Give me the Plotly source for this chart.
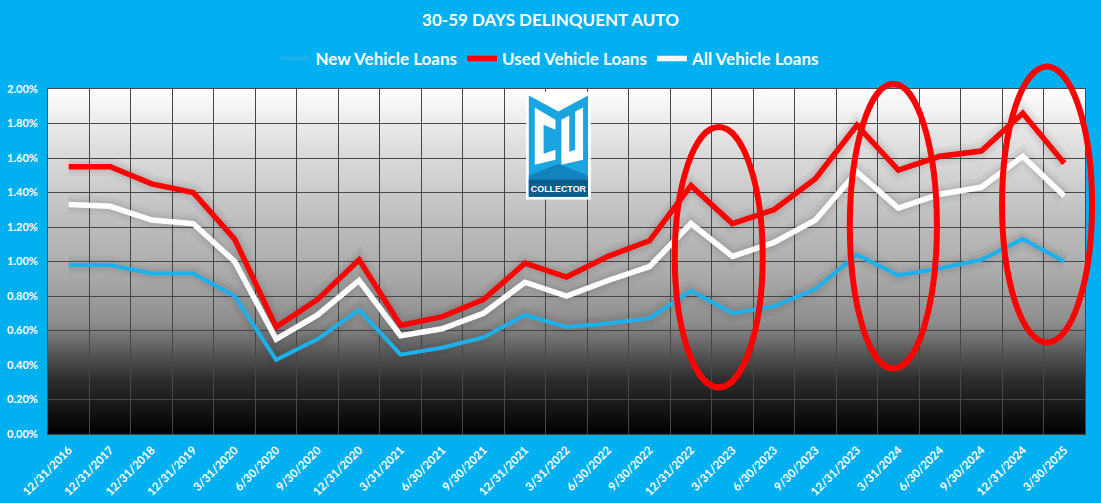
import base64
import plotly.graph_objects as go

# ---------------- data ----------------
categories = ["12/31/2016", "12/31/2017", "12/31/2018", "12/31/2019", "3/31/2020",
              "6/30/2020", "9/30/2020", "12/31/2020", "3/31/2021", "6/30/2021",
              "9/30/2021", "12/31/2021", "3/31/2022", "6/30/2022", "9/30/2022",
              "12/31/2022", "3/31/2023", "6/30/2023", "9/30/2023", "12/31/2023",
              "3/31/2024", "6/30/2024", "9/30/2024", "12/31/2024", "3/30/2025"]

new_vehicle = [0.98, 0.98, 0.93, 0.93, 0.80, 0.43, 0.55, 0.72, 0.46, 0.50,
               0.56, 0.69, 0.62, 0.64, 0.67, 0.83, 0.70, 0.74, 0.84, 1.04,
               0.92, 0.96, 1.01, 1.13, 1.00]
used_vehicle = [1.55, 1.55, 1.45, 1.40, 1.13, 0.62, 0.78, 1.01, 0.63, 0.68,
                0.78, 0.99, 0.91, 1.03, 1.12, 1.44, 1.22, 1.30, 1.48, 1.79,
                1.53, 1.61, 1.64, 1.86, 1.57]
all_vehicle = [1.33, 1.32, 1.24, 1.22, 1.00, 0.55, 0.69, 0.89, 0.57, 0.61,
               0.70, 0.88, 0.80, 0.89, 0.97, 1.22, 1.03, 1.11, 1.24, 1.52,
               1.31, 1.39, 1.43, 1.61, 1.38]

y_ticks = [0.0, 0.2, 0.4, 0.6, 0.8, 1.0, 1.2, 1.4, 1.6, 1.8, 2.0]

# highlight ellipses: (left category idx, right category idx, low %, high %)
ellipses = [(14.61, 16.73, 0.27, 1.78),
            (18.83, 20.93, 0.38, 2.03),
            (22.50, 24.67, 0.53, 2.13)]

series = [("New Vehicle Loans", new_vehicle, "#1cb0ec", 4),
          ("Used Vehicle Loans", used_vehicle, "#ff0000", 5.5),
          ("All Vehicle Loans", all_vehicle, "#ffffff", 5.5)]

BG = "#00b0f0"
FONT = "Lato"

fig = go.Figure()

# soft shadows (glow) below lines
for name, vals, color, w in series:
    for ww, a in [(18, 0.05), (11, 0.07)]:
        fig.add_trace(go.Scatter(
            x=categories, y=[v / 100 for v in vals], mode="lines",
            line=dict(color=f"rgba(60,60,60,{a})", width=ww),
            showlegend=False, hoverinfo="skip"))

for name, vals, color, w in series:
    fig.add_trace(go.Scatter(
        x=categories, y=[v / 100 for v in vals], mode="lines", name=name,
        line=dict(color=color, width=w)))

n = len(categories)
xr = [-0.5, n - 0.5]
yr = [0, 0.02]

def px_x(idx):
    return (idx - xr[0]) / (xr[1] - xr[0])

def px_y(pct):
    return (pct / 100 - yr[0]) / (yr[1] - yr[0])

shapes = []
for x0, x1, y0, y1 in ellipses:
    shapes.append(dict(type="circle", xref="paper", yref="paper",
                       x0=px_x(x0), x1=px_x(x1), y0=px_y(y0), y1=px_y(y1),
                       line=dict(color="#ff0000", width=6), layer="above"))

# gradient background for plot area
grad_svg = """<svg xmlns='http://www.w3.org/2000/svg' width='100' height='100' preserveAspectRatio='none' viewBox='0 0 100 100'>
<defs><linearGradient id='g' x1='0' y1='0' x2='0' y2='1'>
<stop offset='0' stop-color='#ffffff'/>
<stop offset='0.12' stop-color='#e6e6e6'/>
<stop offset='0.35' stop-color='#c2c2c2'/>
<stop offset='0.55' stop-color='#a8a8a8'/>
<stop offset='0.68' stop-color='#8c8c8c'/>
<stop offset='0.76' stop-color='#5a5a5a'/>
<stop offset='0.84' stop-color='#2e2e2e'/>
<stop offset='1' stop-color='#000000'/>
</linearGradient></defs>
<rect x='0' y='0' width='100' height='100' fill='url(#g)'/></svg>"""

logo_svg = """<svg xmlns='http://www.w3.org/2000/svg' width='66' height='108' viewBox='0 0 66 108'>
<rect x='0' y='0' width='66' height='108' fill='#ffffff'/>
<polygon points='3,4 33,20 63,4 63,105 3,105' fill='#1ba5e0'/>
<polygon points='9,16 30,28 30,38 18,33 18,62 30,58 30,68 9,73' fill='#ffffff'/>
<polygon points='36,28 44,24 44,60 50,58 50,20 58,16 58,68 36,73' fill='#ffffff'/>
<polygon points='3,84 33,72 63,84 63,105 3,105' fill='#1283bd'/>
<rect x='3' y='88' width='60' height='17' fill='#0d5d8a'/>
<text x='33' y='100.5' font-family='Liberation Sans Narrow, Arial Narrow, sans-serif' font-weight='bold' font-size='9' fill='#ffffff' text-anchor='middle'>COLLECTOR</text>
</svg>"""

def data_uri(svg):
    return "data:image/svg+xml;base64," + base64.b64encode(svg.encode()).decode()

images = [
    dict(source=data_uri(grad_svg), xref="paper", yref="paper", x=0, y=1,
         sizex=1, sizey=1, xanchor="left", yanchor="top", sizing="stretch",
         layer="below"),
    dict(source=data_uri(logo_svg), xref="paper", yref="paper",
         x=px_x(11.02), y=px_y(1.985), sizex=px_x(12.59) - px_x(11.02),
         sizey=px_y(1.985) - px_y(1.358), xanchor="left", yanchor="top",
         sizing="stretch", layer="above"),
]

fig.update_layout(
    width=1101, height=503,
    paper_bgcolor=BG, plot_bgcolor="rgba(0,0,0,0)",
    margin=dict(l=48, r=16, t=89, b=69, autoexpand=False),
    title=dict(text="30-59 DAYS DELINQUENT AUTO", x=0.5, xanchor="center",
               y=0.96, yanchor="middle", yref="container",
               font=dict(family=FONT, size=17, color="white", weight="bold")),
    legend=dict(orientation="h", x=0.4846, xanchor="center", y=1.087,
                yanchor="middle", bgcolor="rgba(0,0,0,0)",
                font=dict(family=FONT, size=17, color="white", weight="bold"),
                itemwidth=30, tracegroupgap=0),
    xaxis=dict(type="category", range=xr, tickson="boundaries", automargin=False,
               showgrid=True, gridcolor="#474747", gridwidth=1,
               ticks="", tickangle=-45, ticklabelstandoff=4,
               tickfont=dict(family=FONT, size=11.5, color="white", weight="bold"),
               showline=True, linecolor="#474747", mirror=True, zeroline=False),
    yaxis=dict(range=yr, tickvals=[t / 100 for t in y_ticks], tickformat=".2%",
               automargin=False, ticklabelstandoff=7,
               showgrid=True, gridcolor="#474747", gridwidth=1, ticks="",
               tickfont=dict(family=FONT, size=11, color="white", weight="bold"),
               showline=True, linecolor="#474747", mirror=True, zeroline=False),
    shapes=shapes, images=images, showlegend=True,
)

fig.write_html(
    "out.html",
    config={"displayModeBar": False},
    post_script="document.body.style.margin='0';"
                "document.body.style.background='" + BG + "';",
)
